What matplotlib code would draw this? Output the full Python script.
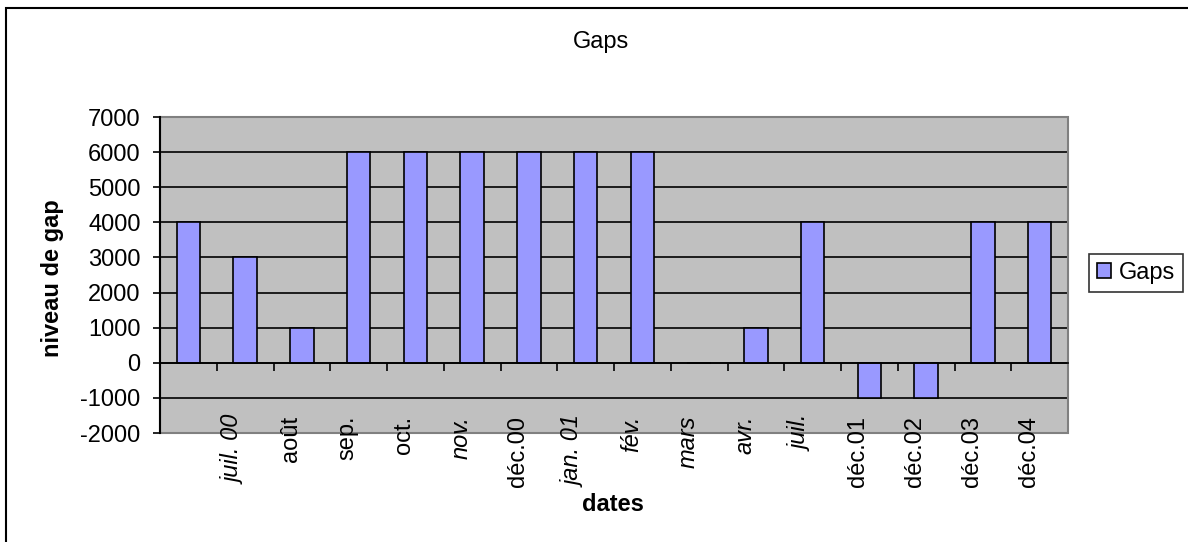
import matplotlib
matplotlib.use('Agg')
import matplotlib.pyplot as plt
import matplotlib.transforms as mtransforms
from matplotlib.patches import Rectangle
import numpy as np

plt.rcParams['font.family'] = ['Liberation Sans', 'DejaVu Sans']
plt.rcParams['axes.unicode_minus'] = False

dates = ['', 'juil. 00', 'août', 'sep.', 'oct.', 'nov.', 'déc.00', 'jan. 01',
         'fév.', 'mars', 'avr.', 'juil.', 'déc.01', 'déc.02', 'déc.03', 'déc.04']
gaps = [4000, 3000, 1000, 6000, 6000, 6000, 6000, 6000,
        6000, 0, 1000, 4000, -1000, -1000, 4000, 4000]
italic_dates = {'juil. 00', 'nov.', 'jan. 01', 'fév.', 'mars', 'avr.', 'juil.'}
yticks = np.arange(-2000, 7001, 1000)

fs = 17
fig = plt.figure(figsize=(11.88, 5.42), dpi=100)
ax = fig.add_axes([160 / 1188, 109 / 542, 908 / 1188, 316 / 542])
ax.set_facecolor('#C0C0C0')

x = np.arange(len(gaps))
bars = ax.bar(x, gaps, width=0.41, color='#9999FF', edgecolor='black',
              linewidth=1.2, zorder=3)

ax.set_xlim(-0.5, len(gaps) - 0.5)
ax.set_ylim(yticks[0], yticks[-1])
ax.set_yticks(yticks)
ax.tick_params(axis='y', labelsize=fs, length=5, width=1.2, direction='out', pad=9)

# horizontal gridlines (top one is the plot border)
for v in yticks[1:-1]:
    ax.axhline(v, color='black', linewidth=1.2, zorder=1)

# category axis sits on zero, ticks between categories
ax.spines['bottom'].set_position(('data', 0))
ax.spines['bottom'].set_color('black')
ax.spines['bottom'].set_linewidth(1.2)
ax.spines['bottom'].set_zorder(4)
ax.set_xticks(np.arange(len(gaps) - 1) + 0.5)
ax.set_xticklabels([])
ax.tick_params(axis='x', length=6, width=1.2, direction='out')
ax.spines['top'].set_visible(False)
ax.spines['right'].set_visible(False)
ax.spines['left'].set_linewidth(1.5)
ax.spines['left'].set_zorder(5)
ax.add_patch(Rectangle((0, 0), 1, 1, transform=ax.transAxes, fill=False,
                       edgecolor='#808080', linewidth=1.5, zorder=4, clip_on=False))

# date labels hang below the plot, rotated
shift = mtransforms.ScaledTranslation(-11 / 100, 0, fig.dpi_scale_trans)
trans = mtransforms.blended_transform_factory(ax.transData, ax.transAxes) + shift
for xi, lab in zip(x, dates):
    ax.text(xi, 0.055, lab, transform=trans, rotation=90, ha='center', va='top',
            fontsize=fs, style='italic' if lab in italic_dates else 'normal',
            clip_on=False, zorder=6)

ax.set_ylabel('niveau de gap', fontsize=fs, fontweight='bold')
ax.yaxis.set_label_coords(-0.106, 0.49)
ax.set_xlabel('dates', fontsize=fs, fontweight='bold')
ax.xaxis.set_label_coords(0.499, -0.19)

fig.text(601 / 1188, 1 - 31 / 542, 'Gaps', ha='center', va='top', fontsize=fs)

leg = fig.legend([bars], ['Gaps'], loc='center left',
                 bbox_to_anchor=(1089 / 1188, 1 - 273 / 542),
                 fontsize=fs, frameon=True, fancybox=False, edgecolor='black',
                 handlelength=0.6, handleheight=0.6, handletextpad=0.3,
                 borderpad=0.35, borderaxespad=0)
leg.get_frame().set_linewidth(1.2)

# chart area border
fig.add_artist(Rectangle((6 / 1188, -0.05), 1.2, 1 - 8 / 542 + 0.05,
                         transform=fig.transFigure, fill=False,
                         edgecolor='black', linewidth=1.5))

fig.savefig('out.png', dpi=100)
